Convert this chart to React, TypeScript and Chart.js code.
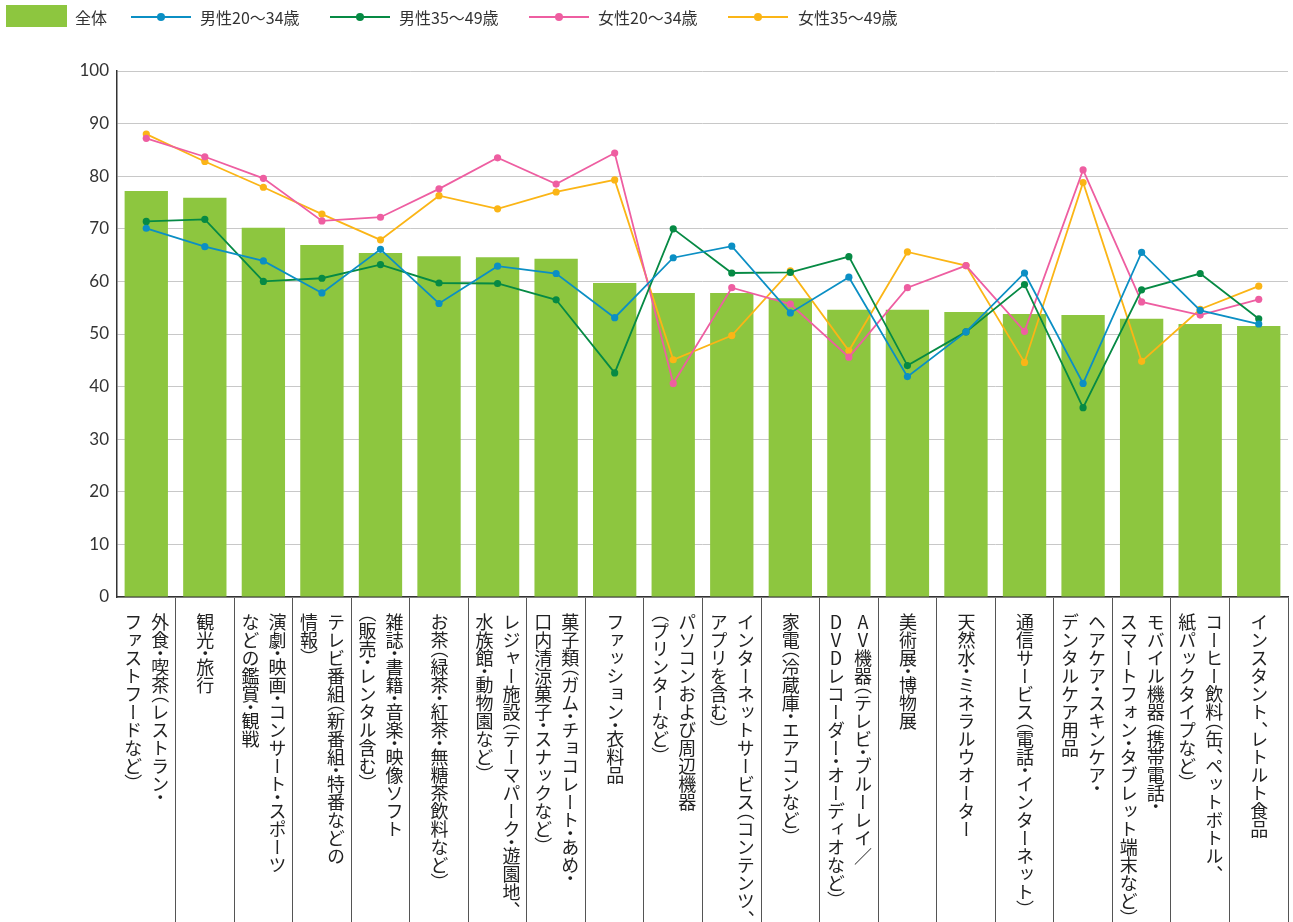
import React, { useEffect, useRef, useState } from 'react';
import { Chart, registerables } from 'chart.js';

Chart.register(...registerables);

// Category labels (each entry = columns of vertical text, right column first)
const categories: string[][] = [
  ['外食・喫茶（レストラン・', 'ファストフードなど）'],
  ['観光・旅行'],
  ['演劇・映画・コンサート・スポーツ', 'などの鑑賞・観戦'],
  ['テレビ番組（新番組・特番などの', '情報）'],
  ['雑誌・書籍・音楽・映像ソフト', '（販売・レンタル含む）'],
  ['お茶（緑茶・紅茶・無糖茶飲料など）'],
  ['レジャー施設（テーマパーク・遊園地、', '水族館・動物園など）'],
  ['菓子類（ガム・チョコレート・あめ・', '口内清涼菓子・スナックなど）'],
  ['ファッション・衣料品'],
  ['パソコンおよび周辺機器', '（プリンターなど）'],
  ['インターネットサービス（コンテンツ、', 'アプリを含む）'],
  ['家電（冷蔵庫・エアコンなど）'],
  ['AV機器（テレビ・ブルーレイ／', 'DVDレコーダー・オーディオなど）'],
  ['美術展・博物展'],
  ['天然水・ミネラルウオーター'],
  ['通信サービス（電話・インターネット）'],
  ['ヘアケア・スキンケア・', 'デンタルケア用品'],
  ['モバイル機器（携帯電話・', 'スマートフォン・タブレット端末など）'],
  ['コーヒー飲料（缶、ペットボトル、', '紙パックタイプなど）'],
  ['インスタント、レトルト食品'],
];

const seriesNames = ['全体', '男性20〜34歳', '男性35〜49歳', '女性20〜34歳', '女性35〜49歳'];

const overall = [77.2, 75.9, 70.2, 66.9, 65.4, 64.8, 64.6, 64.3, 59.7, 57.8, 57.8, 56.8, 54.6, 54.6, 54.2, 53.8, 53.6, 52.9, 51.9, 51.5];
const male2034 = [70.1, 66.6, 63.9, 57.8, 66.1, 55.8, 62.9, 61.5, 53.1, 64.5, 66.7, 54.0, 60.8, 41.9, 50.4, 61.6, 40.6, 65.5, 54.5, 51.9];
const male3549 = [71.4, 71.8, 60.0, 60.6, 63.2, 59.7, 59.6, 56.5, 42.6, 70.0, 61.6, 61.7, 64.7, 44.0, 50.4, 59.4, 36.0, 58.4, 61.5, 52.9];
const female2034 = [87.2, 83.7, 79.6, 71.5, 72.2, 77.6, 83.5, 78.5, 84.4, 40.6, 58.8, 55.7, 45.6, 58.8, 63.0, 50.5, 81.2, 56.1, 53.6, 56.6];
const female3549 = [88.0, 82.8, 77.9, 72.8, 67.9, 76.3, 73.8, 77.0, 79.3, 45.1, 49.7, 62.0, 46.8, 65.6, 63.0, 44.6, 78.8, 44.8, 54.7, 59.1];

const yMin = 0;
const yMax = 100;
const yStep = 10;

const colors = ['#8dc63f', '#0b8fc4', '#068a44', '#ee5ea1', '#fbb516'];

const W = 1293;
const H = 922;
const FONT = '"Noto Sans CJK JP", "Noto Sans", sans-serif';
const COMPRESSED = '・（）、／';

// render one column of vertical text: punctuation is set proportionally (compressed)
function VerticalLine({ text }: { text: string }) {
  const parts: React.ReactNode[] = [];
  let buf = '';
  let k = 0;
  for (const ch of text) {
    if (COMPRESSED.includes(ch)) {
      if (buf) parts.push(<span key={k++}>{buf}</span>);
      buf = '';
      parts.push(
        <span key={k++} style={{ fontFeatureSettings: '"vpal"' }}>
          {ch}
        </span>
      );
    } else {
      buf += ch;
    }
  }
  if (buf) parts.push(<span key={k++}>{buf}</span>);
  return <>{parts}</>;
}

export default function App() {
  const ref = useRef<HTMLCanvasElement>(null);
  const [centers, setCenters] = useState<number[]>([]);

  useEffect(() => {
    const lineSet = (label: string, data: number[], color: string) => ({
      type: 'line' as const,
      label,
      data,
      borderColor: color,
      backgroundColor: color,
      borderWidth: 1.8,
      pointRadius: 3.6,
      pointBorderWidth: 0,
      pointBackgroundColor: color,
      tension: 0,
      order: 0,
    });
    const chart = new Chart(ref.current as HTMLCanvasElement, {
      data: {
        labels: categories.map((c) => c.join('')),
        datasets: [
          lineSet(seriesNames[1], male2034, colors[1]),
          lineSet(seriesNames[2], male3549, colors[2]),
          lineSet(seriesNames[3], female2034, colors[3]),
          lineSet(seriesNames[4], female3549, colors[4]),
          {
            type: 'bar' as const,
            label: seriesNames[0],
            data: overall,
            backgroundColor: colors[0],
            barPercentage: 0.74,
            categoryPercentage: 1,
            order: 1,
          },
        ],
      } as any,
      options: {
        responsive: false,
        animation: false,
        events: [],
        layout: { padding: { top: 71, right: 5, left: 0, bottom: 0 } },
        plugins: { legend: { display: false }, tooltip: { enabled: false } },
        scales: {
          x: {
            type: 'category',
            offset: true,
            grid: {
              offset: true,
              drawOnChartArea: false,
              drawTicks: true,
              tickLength: 325,
              color: (ctx: any) => (ctx.index === 0 || ctx.index === categories.length ? 'rgba(0,0,0,0)' : '#555'),
              lineWidth: 1,
            },
            ticks: { display: false },
            border: { color: '#333', width: 1.5 },
          },
          y: {
            min: yMin,
            max: yMax,
            ticks: {
              stepSize: yStep,
              color: '#333',
              padding: 8,
              font: { family: 'Lato, "Noto Sans", sans-serif', size: 17 },
            },
            grid: { color: '#c8c8c8', lineWidth: 1, drawTicks: false },
            border: { color: '#333', width: 1.5 },
            afterFit: (s: any) => {
              s.width = 117;
            },
          },
        },
      } as any,
    });
    const xs = chart.scales.x;
    setCenters(categories.map((_, i) => xs.getPixelForValue(i)));
    return () => chart.destroy();
  }, []);

  const legendLines = [
    { x: 131, tx: 200 },
    { x: 330, tx: 399 },
    { x: 529, tx: 598 },
    { x: 728, tx: 798 },
  ];

  return (
    <div style={{ position: 'absolute', left: 0, top: 0, width: W, height: H, background: '#fff', overflow: 'hidden' }}>
      <canvas ref={ref} width={W} height={H} style={{ position: 'absolute', left: 0, top: 0, width: W, height: H }} />
      {/* legend */}
      <div style={{ position: 'absolute', left: 6, top: 5, width: 61, height: 22, background: colors[0] }} />
      <div style={{ position: 'absolute', left: 75, top: 6, fontFamily: FONT, fontSize: 16, lineHeight: '22px', color: '#333', whiteSpace: 'nowrap' }}>
        {seriesNames[0]}
      </div>
      {legendLines.map((l, i) => (
        <React.Fragment key={i}>
          <div style={{ position: 'absolute', left: l.x, top: 16, width: 60, height: 2, background: colors[i + 1] }} />
          <div style={{ position: 'absolute', left: l.x + 26, top: 13, width: 8, height: 8, borderRadius: 4, background: colors[i + 1] }} />
          <div style={{ position: 'absolute', left: l.tx, top: 6, fontFamily: FONT, fontSize: 16, lineHeight: '22px', color: '#333', whiteSpace: 'nowrap' }}>
            {seriesNames[i + 1]}
          </div>
        </React.Fragment>
      ))}
      {/* vertical category labels */}
      {centers.map((cx, i) => (
        <div
          key={i}
          style={{
            position: 'absolute',
            left: cx,
            top: 613,
            transform: 'translateX(-50%)',
            writingMode: 'vertical-rl',
            textOrientation: 'upright',
            fontFamily: FONT,
            fontSize: 18,
            lineHeight: '27px',
            color: '#222',
            whiteSpace: 'nowrap',
          } as any}
        >
          {categories[i].map((line, j) => (
            <div key={j}>
              <VerticalLine text={line} />
            </div>
          ))}
        </div>
      ))}
    </div>
  );
}
